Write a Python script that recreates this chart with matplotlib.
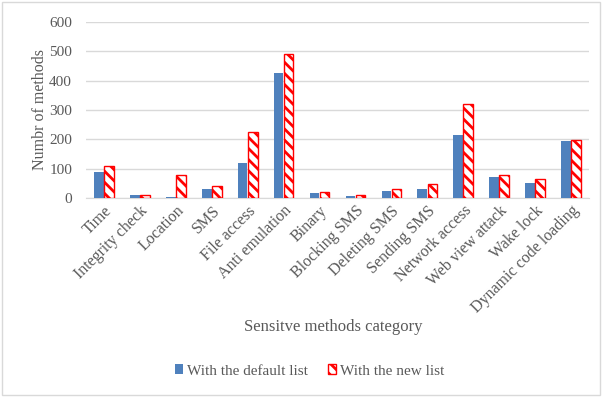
import matplotlib
matplotlib.use("Agg")
import matplotlib.pyplot as plt
from matplotlib.patches import Rectangle
import numpy as np

categories = ["Time", "Integrity check", "Location", "SMS", "File access",
              "Anti emulation", "Binary", "Blocking SMS", "Deleting SMS",
              "Sending SMS", "Network access", "Web view attack", "Wake lock",
              "Dynamic code loading"]
default_list = [88, 10, 4, 30, 118, 425, 16, 8, 23, 31, 215, 70, 52, 193]
new_list = [110, 10, 80, 40, 225, 491, 19, 11, 30, 49, 321, 78, 64, 197]
yticks = [0, 100, 200, 300, 400, 500, 600]

plt.rcParams["font.family"] = ["Liberation Serif", "DejaVu Serif"]
plt.rcParams["hatch.linewidth"] = 2.0
plt.rcParams["hatch.color"] = "#ff0000"
text_color = "#595959"

fig = plt.figure(figsize=(6.02, 3.97), dpi=100)
fig.patches.append(Rectangle((0.004, 0.004), 0.992, 0.99, transform=fig.transFigure,
                             fill=False, edgecolor="#d9d9d9", linewidth=1))
ax = fig.add_axes([86/602, 1 - 198/397, (589 - 86)/602, (198 - 22)/397])

x = np.arange(len(categories))
w = 0.27
ax.bar(x - 0.14, default_list, w, color="#4f81bd", label="With the default list", zorder=3)
ax.bar(x + 0.14, new_list, w, facecolor="white", edgecolor="#ff0000", hatch="\\\\\\",
       linewidth=1, label="With the new list", zorder=3)

ax.set_xlim(-0.5, len(categories) - 0.5)
ax.set_ylim(0, 600)
ax.set_yticks(yticks)
ax.yaxis.grid(True, color="#d9d9d9", linewidth=1)
ax.set_axisbelow(True)
for s in ["top", "right", "left"]:
    ax.spines[s].set_visible(False)
ax.spines["bottom"].set_color("#d9d9d9")
ax.tick_params(axis="both", length=0, labelsize=11.5, colors=text_color)
ax.tick_params(axis="y", pad=10, labelsize=11)
ax.set_xticks(x)
ax.set_xticklabels(categories, rotation=45, ha="right", rotation_mode="anchor")
ax.set_ylabel("Numbr of methods", fontsize=11.5, color=text_color, labelpad=1)
fig.text(0.553, 1 - 327/397, "Sensitve methods category", ha="center", va="center",
         fontsize=12, color=text_color)

leg = fig.legend(loc="center", bbox_to_anchor=(0.514, 1 - 371/397), ncol=2, frameon=False,
                 fontsize=11, handlelength=0.55, handleheight=0.55, handletextpad=0.2,
                 columnspacing=1.35, labelcolor=text_color)

fig.savefig("out.png", dpi=100)
